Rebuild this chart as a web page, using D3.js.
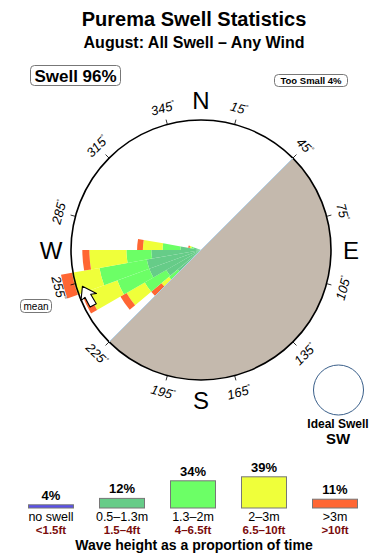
<!DOCTYPE html>
<html><head><meta charset="utf-8">
<script src="https://cdn.jsdelivr.net/npm/d3@7"></script>
<style>body{margin:0;background:#fff}svg{display:block;font-family:"Liberation Sans",Arial,sans-serif}</style>
</head><body><svg id="c" width="390" height="560"></svg>
<script>
// ---- data ----
const directions = [225, 235, 245, 255, 265, 275, 285];   // petal centre (deg, compass)
const band05_13 = [1.3, 2.3, 4.3, 4.3, 3.5, 0.6, 0.08];   // % time 0.5-1.3m
const band13_2  = [1.2, 3.7, 6.95, 10.8, 4.4, 1.5, 0.06]; // % time 1.3-2m
const band2_3   = [1.3, 4.5, 9.2, 9.3, 9.8, 2.7, 0.05];   // % time 2-3m
const band3p    = [2.2, 1.8, 2.45, 4.3, 2.3, 1.0, 0.05];  // % time >3m
const legendLabels = ["no swell", "0.5–1.3m", "1.3–2m", "2–3m", ">3m"];
const legendFeet = ["<1.5ft", "1.5–4ft", "4–6.5ft", "6.5–10ft", ">10ft"];
const legendPct = [4, 12, 34, 39, 11];
const tickAngles = [15, 45, 75, 105, 135, 165, 195, 225, 255, 285, 315, 345];
const cardinals = ["N", "E", "S", "W"];
const cardinalAngles = [0, 90, 180, 270];
const meanDir = 253;
const landFrom = 45, landTo = 225;
const swellPct = 96, tooSmallPct = 4;

const colors = ["#5a50ec", "#66cc88", "#6cff66", "#efff3a", "#ff6633"];

// ---- layout ----
const svg = d3.select("#c");
const cx = 201, cy = 250, R = 130;
const rad = d => d * Math.PI / 180;
const rScale = d3.scaleSqrt().domain([0, 24]).range([0, R]);
const pt = (deg, r) => [cx + r * Math.sin(rad(deg)), cy - r * Math.cos(rad(deg))];

// titles
svg.append("text").attr("x", 194).attr("y", 26).attr("text-anchor", "middle")
  .attr("font-size", 20).attr("font-weight", "bold").text("Purema Swell Statistics");
svg.append("text").attr("x", 194).attr("y", 48).attr("text-anchor", "middle")
  .attr("font-size", 16).attr("font-weight", "bold").text("August: All Swell – Any Wind");

// boxes
function box(x, y, w, h, txt, fs, bold) {
  svg.append("rect").attr("x", x).attr("y", y).attr("width", w).attr("height", h)
    .attr("rx", 4).attr("fill", "#fff").attr("stroke", "#777").attr("stroke-width", 1);
  svg.append("text").attr("x", x + w / 2).attr("y", y + h / 2).attr("dy", "0.36em")
    .attr("text-anchor", "middle").attr("font-size", fs).attr("font-weight", bold ? "bold" : "normal").text(txt);
}
box(30.5, 65.5, 90, 20, `Swell ${swellPct}%`, 17, true);
box(274.5, 74.5, 73, 12, `Too Small ${tooSmallPct}%`, 9.5, true);

const g = svg.append("g").attr("transform", `translate(${cx},${cy})`);
g.append("circle").attr("r", R).attr("fill", "#fff");

// petals
const arc = d3.arc();
const bands = [band05_13, band13_2, band2_3, band3p];
directions.forEach((dir, i) => {
  let cum = 0;
  bands.forEach((b, k) => {
    const r0 = rScale(cum); cum += b[i]; const r1 = rScale(cum);
    g.append("path").attr("d", arc({innerRadius: r0, outerRadius: r1,
      startAngle: rad(dir - 5), endAngle: rad(dir + 5)})).attr("fill", colors[k + 1]);
  });
});

// land
g.append("path").attr("d", arc({innerRadius: 0, outerRadius: R, startAngle: rad(landFrom), endAngle: rad(landTo)}))
  .attr("fill", "#c4b9ad");
const a = pt(landFrom, R), b = pt(landTo, R);
svg.append("line").attr("x1", a[0]).attr("y1", a[1]).attr("x2", b[0]).attr("y2", b[1])
  .attr("stroke", "#b3d0e6").attr("stroke-width", 1);

// outline
g.append("circle").attr("r", R).attr("fill", "none").attr("stroke", "#000").attr("stroke-width", 1.6);

// ticks + labels
tickAngles.forEach(t => {
  const p0 = pt(t, R), p1 = pt(t, R + 5);
  svg.append("line").attr("x1", p0[0]).attr("y1", p0[1]).attr("x2", p1[0]).attr("y2", p1[1])
    .attr("stroke", "#000").attr("stroke-width", 0.8);
  const p = pt(t, R + 17);
  const rot = t < 90 ? t : (t < 270 ? t - 180 : t - 360);
  const tx = svg.append("text").attr("transform", `translate(${p[0]},${p[1]}) rotate(${rot})`)
    .attr("text-anchor", "middle").attr("dy", "0.36em").attr("font-size", 13).attr("font-style", "italic");
  tx.append("tspan").text(t);
  tx.append("tspan").attr("font-size", 7).attr("dy", -5).text("°");
});

// cardinals
cardinals.forEach((c, i) => {
  const p = pt(cardinalAngles[i], 150);
  svg.append("text").attr("x", p[0]).attr("y", p[1]).attr("dy", "0.36em").attr("text-anchor", "middle")
    .attr("font-size", 24).text(c);
});

// mean arrow
const mp = pt(meanDir, 124);
svg.append("path").attr("transform", `translate(${mp[0]},${mp[1]}) rotate(-28)`)
  .attr("d", "M0,0 L9,13 L3.5,11 L4,22 L-3,22 L-3,11 L-8,12 Z")
  .attr("fill", "#fff").attr("stroke", "#000").attr("stroke-width", 1.1).attr("stroke-linejoin", "round");
box(20.5, 299.5, 31, 13, "mean", 10, false);

// ideal swell
svg.append("circle").attr("cx", 338.5).attr("cy", 390).attr("r", 25).attr("fill", "#fff")
  .attr("stroke", "#3a5f8a").attr("stroke-width", 1);
svg.append("text").attr("x", 338).attr("y", 428).attr("text-anchor", "middle").attr("font-size", 12)
  .attr("font-weight", "bold").text("Ideal Swell");
svg.append("text").attr("x", 338).attr("y", 444).attr("text-anchor", "middle").attr("font-size", 15)
  .attr("font-weight", "bold").text("SW");

// legend
const lx = d3.scalePoint().domain(legendLabels).range([51, 335]);
const lh = d3.scaleLinear().domain([0, 40]).range([0, 32]);
const base = 508, bw = 45;
legendLabels.forEach((l, i) => {
  const x = lx(l), h = Math.max(3, lh(legendPct[i]));
  svg.append("rect").attr("x", x - bw / 2).attr("y", base - h).attr("width", bw).attr("height", h)
    .attr("fill", colors[i]).attr("stroke", "#777").attr("stroke-width", 1);
  svg.append("text").attr("x", x).attr("y", base - h - 5).attr("text-anchor", "middle")
    .attr("font-size", 13).attr("font-weight", "bold").text(legendPct[i] + "%");
  svg.append("text").attr("x", x).attr("y", 521).attr("text-anchor", "middle")
    .attr("font-size", 12.5).text(l);
  svg.append("text").attr("x", x).attr("y", 534).attr("text-anchor", "middle")
    .attr("font-size", 11.5).attr("font-weight", "bold").attr("fill", "#7a0c0c").text(legendFeet[i]);
});
svg.append("text").attr("x", 194).attr("y", 550).attr("text-anchor", "middle")
  .attr("font-size", 14).attr("font-weight", "bold").text("Wave height as a proportion of time");
</script></body></html>
